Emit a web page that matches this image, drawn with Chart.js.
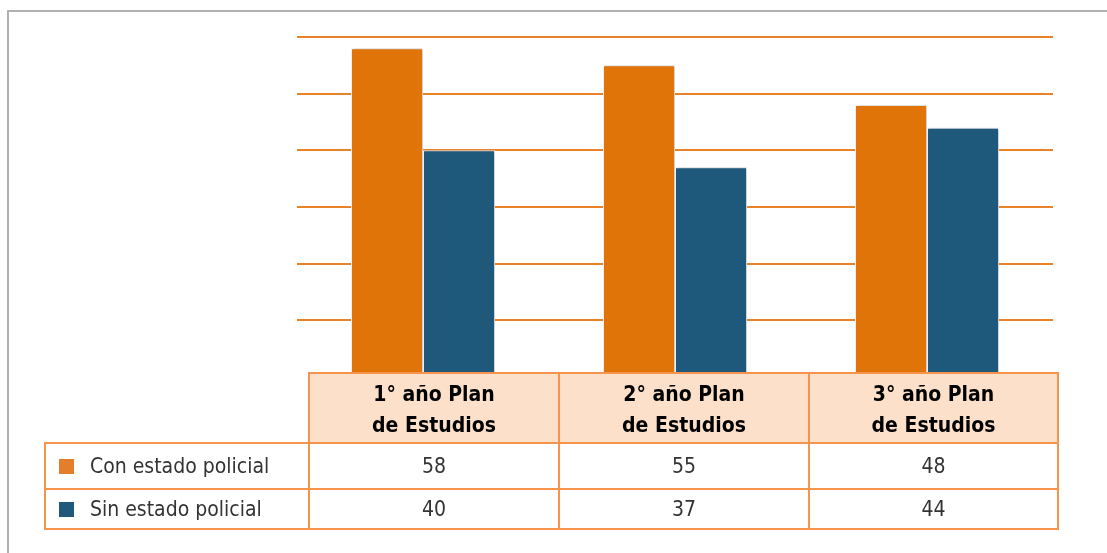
<!DOCTYPE html>
<html>
<head>
<meta charset="utf-8">
<script src="https://cdn.jsdelivr.net/npm/chart.js@4/dist/chart.umd.min.js"></script>
<style>
  body { margin: 0; background: #fff; }
  #frame {
    position: absolute; left: 7px; top: 10px; width: 1200px; height: 700px;
    border-top: 2px solid #b0b0b0; border-left: 2px solid #b0b0b0;
  }
  #wrap { position: absolute; left: 0; top: 0; width: 1107px; height: 553px; }
  #dataTable {
    position: absolute; left: 44px; top: 372px;
    border-collapse: collapse; table-layout: fixed;
    font-family: "Liberation Sans Narrow", "DejaVu Sans Condensed", sans-serif;
  }
  #dataTable td, #dataTable th { border: 2px solid #f5944a; padding: 0; }
  #dataTable th {
    background: #fde0c9; color: #000; font-weight: bold; font-size: 21px;
    line-height: 31px; height: 65px; text-align: center; padding-top: 3px;
  }
  #dataTable th.blank { background: transparent; border: none; }
  #dataTable td { font-size: 21px; color: #333; text-align: center; background: #fff; }
  #dataTable td.name { text-align: left; padding-left: 13px; }
  .sw { display: inline-block; width: 15px; height: 15px; margin-right: 16px; vertical-align: -1px; }
</style>
</head>
<body>
<div id="frame"></div>
<div id="wrap"><canvas id="chart"></canvas></div>
<table id="dataTable"></table>
<script>
const categories = [['1° año Plan', 'de Estudios'], ['2° año Plan', 'de Estudios'], ['3° año Plan', 'de Estudios']];
const seriesNames = ['Con estado policial', 'Sin estado policial'];
const conEstado = [58, 55, 48];
const sinEstado = [40, 37, 44];
const barColors = ['#e07408', '#1e587a'];
const swatchColors = ['#e57e2b', '#1f5a7b'];

// Drop shadow around the bars
const shadowPlugin = {
    id: 'barShadow',
    beforeDatasetsDraw(chart) {
        const c = chart.ctx;
        c.save();
        c.shadowColor = 'rgba(0,0,0,0.3)';
        c.shadowBlur = 4;
        c.shadowOffsetX = 1;
    },
    afterDatasetsDraw(chart) {
        chart.ctx.restore();
    }
};

const chart = new Chart(document.getElementById('chart'), {
    type: 'bar',
    data: {
        labels: categories.map(c => c.join(' ')),
        datasets: [
            { label: seriesNames[0], data: conEstado, backgroundColor: barColors[0] },
            { label: seriesNames[1], data: sinEstado, backgroundColor: barColors[1] }
        ]
    },
    options: {
        responsive: true,
        maintainAspectRatio: false,
        animation: false,
        layout: { padding: { left: 297, right: 54, top: 37, bottom: 176 } },
        datasets: {
            bar: {
                categoryPercentage: 0.5714,
                barPercentage: 1,
                borderWidth: 1,
                borderColor: '#ffffff',
                borderSkipped: 'bottom'
            }
        },
        plugins: { legend: { display: false }, tooltip: { enabled: false } },
        scales: {
            x: { display: false },
            y: {
                min: 0, max: 60,
                ticks: { display: false, stepSize: 10 },
                border: { display: false },
                grid: {
                    // no line at zero, the table header sits there
                    color: ctx => ctx.tick && ctx.tick.value === 0 ? 'rgba(0,0,0,0)' : '#e8832a',
                    lineWidth: 2,
                    drawTicks: false
                },
                afterFit: s => { s.width = 0; }
            }
        }
    },
    plugins: [shadowPlugin]
});

// Data table under the bars, built from the same arrays
const table = document.getElementById('dataTable');
const colWidths = [264, 250, 250, 249];
const cg = document.createElement('colgroup');
colWidths.forEach(w => {
    const col = document.createElement('col');
    col.style.width = w + 'px';
    cg.appendChild(col);
});
table.appendChild(cg);

const head = document.createElement('tr');
const blank = document.createElement('th');
blank.className = 'blank';
head.appendChild(blank);
categories.forEach(lines => {
    const th = document.createElement('th');
    th.innerHTML = lines.join('<br>');
    head.appendChild(th);
});
table.appendChild(head);

[conEstado, sinEstado].forEach((values, i) => {
    const tr = document.createElement('tr');
    tr.style.height = (i === 0 ? 46 : 40) + 'px';
    const name = document.createElement('td');
    name.className = 'name';
    const sw = document.createElement('span');
    sw.className = 'sw';
    sw.style.background = swatchColors[i];
    name.appendChild(sw);
    name.appendChild(document.createTextNode(seriesNames[i]));
    tr.appendChild(name);
    values.forEach(v => {
        const td = document.createElement('td');
        td.textContent = v;
        tr.appendChild(td);
    });
    table.appendChild(tr);
});
</script>
</body>
</html>
